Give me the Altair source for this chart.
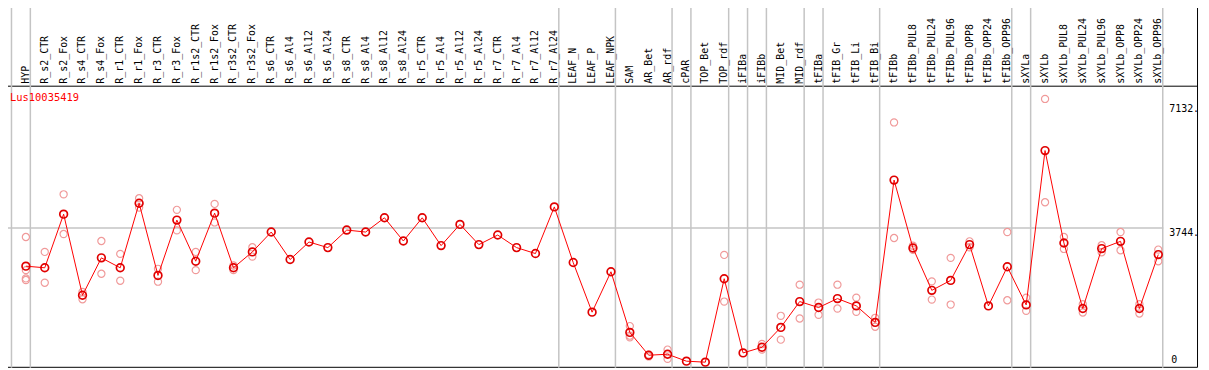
import altair as alt
import pandas as pd

# ---- data ----
gene = "Lus10035419"
samples = [
    "HYP", "R_s2_CTR", "R_s2_Fox", "R_s4_CTR", "R_s4_Fox", "R_r1_CTR", "R_r1_Fox",
    "R_r3_CTR", "R_r3_Fox", "R_r1s2_CTR", "R_r1s2_Fox", "R_r3s2_CTR", "R_r3s2_Fox",
    "R_s6_CTR", "R_s6_Al4", "R_s6_Al12", "R_s6_Al24", "R_s8_CTR", "R_s8_Al4",
    "R_s8_Al12", "R_s8_Al24", "R_r5_CTR", "R_r5_Al4", "R_r5_Al12", "R_r5_Al24",
    "R_r7_CTR", "R_r7_Al4", "R_r7_Al12", "R_r7_Al24", "LEAF_N", "LEAF_P", "LEAF_NPK",
    "SAM", "AR_Bet", "AR_rdf", "cPAR", "TOP_Bet", "TOP_rdf", "iFIBa", "iFIBb",
    "MID_Bet", "MID_rdf", "tFIBa", "tFIB_Gr", "tFIB_Li", "tFIB_Bi", "tFIBb",
    "tFIBb_PUL8", "tFIBb_PUL24", "tFIBb_PUL96", "tFIBb_OPP8", "tFIBb_OPP24",
    "tFIBb_OPP96", "sXYLa", "sXYLb", "sXYLb_PUL8", "sXYLb_PUL24", "sXYLb_PUL96",
    "sXYLb_OPP8", "sXYLb_OPP24", "sXYLb_OPP96",
]
means = [
    2702, 2657, 4122, 1906, 2928, 2657, 4421, 2448, 3960, 2837, 4150, 2657, 3091,
    3634, 2883, 3362, 3208, 3688, 3634, 4023, 3389, 4023, 3263, 3842, 3290,
    3552, 3208, 3046, 4321, 2801, 1444, 2548,
    892, 268, 295, 105, 78, 2358, 331, 485, 1028, 1734, 1571, 1815, 1616, 1164,
    5054, 3199, 2041, 2313, 3290, 1616, 2684, 1643, 5860, 3335, 1544, 3181,
    3380, 1544, 3018,
]
replicates = [
    [3498, 2593, 2367, 2322], [3091, 2249], [4665, 3579], [1996, 1797], [3389, 2494],
    [3037, 2304], [4557, 4303], [2629, 2277], [4240, 3679], [3091, 2593], [4403, 3896],
    [2720, 2593], [3217, 2964],
    [], [], [], [], [], [], [], [], [], [], [], [], [], [], [], [], [], [], [],
    [1064, 802, 756], [285, 235], [422, 168], [], [], [3009, 1734], [], [575, 422],
    [1345, 693], [2195, 1272], [1707, 1372], [2195, 1544], [1842, 1453], [1290, 1046],
    [6629, 3471], [3150, 3260], [2286, 1788], [2928, 1652], [3380, 3217], [],
    [3634, 1770], [1842, 1480], [7271, 4448], [3498, 3172], [1661, 1435], [3272, 3082],
    [3634, 3136], [1661, 1408], [3154, 2837],
]
group_ends = [-1, 0, 28, 31, 34, 35, 37, 38, 39, 41, 42, 45, 52, 53, 60]
tick_values = [7132, 3744, 0]
tick_labels = ["7132.", "3744.", "0"]
grid_values = [3744]

# ---- tables ----
df_mean = pd.DataFrame({"idx": list(range(len(samples))), "name": samples, "v": means})
rep_rows = [{"idx": i, "v": v} for i, reps in enumerate(replicates) for v in reps]
df_rep = pd.DataFrame(rep_rows)
df_sep = pd.DataFrame({"idx": group_ends})
df_ticks = pd.DataFrame({"v": tick_values, "label": tick_labels})
df_grid = pd.DataFrame({"v": grid_values})
df_title = pd.DataFrame({"t": [gene]})

W, H = 1209, 370
xs = alt.Scale(domain=[-26 / 19, (W - 26) / 19], nice=False, zero=False)
ys = alt.Scale(domain=[-103, 9940], nice=False, zero=False)
FONT = "DejaVu Sans Mono"

X = alt.X("idx:Q", scale=xs, axis=None)
Y = alt.Y("v:Q", scale=ys, axis=None)

frame = alt.Chart(df_title).mark_rect(fill="white", fillOpacity=0, stroke="black", strokeWidth=1).encode(
    x=alt.value(1.5), x2=alt.value(1205.5), y=alt.value(0.5), y2=alt.value(368.5)
)
header_line = alt.Chart(df_title).mark_rule(color="black", strokeWidth=1).encode(
    x=alt.value(1), x2=alt.value(1205), y=alt.value(85.5)
)
seps = alt.Chart(df_sep).mark_rule(color="#c4c4c4", strokeWidth=1.5, xOffset=4.5).encode(
    x=X, y=alt.value(0), y2=alt.value(369)
)
grid = alt.Chart(df_grid).mark_rule(color="#c4c4c4", strokeWidth=1.5).encode(
    y=Y, x=alt.value(1), x2=alt.value(1171)
)
col_labels = alt.Chart(df_mean).mark_text(
    angle=270, align="left", baseline="middle", font=FONT, fontSize=10, color="black"
).encode(x=X, y=alt.value(83), text="name:N")
title = alt.Chart(df_title).mark_text(
    align="left", baseline="middle", font=FONT, fontSize=10.5, color="#ff0000"
).encode(x=alt.value(10), y=alt.value(97), text="t:N")
ticks_top = alt.Chart(df_ticks).transform_filter("datum.v > 0").mark_text(
    align="left", baseline="top", font=FONT, fontSize=10, color="black"
).encode(y=Y, x=alt.value(1177), text="label:N")
ticks_zero = alt.Chart(df_ticks).transform_filter("datum.v <= 0").mark_text(
    align="left", baseline="bottom", font=FONT, fontSize=10, color="black"
).encode(y=Y, x=alt.value(1179), text="label:N")
reps = alt.Chart(df_rep).mark_point(
    shape="circle", filled=False, color="#f09a9a", strokeWidth=1.2, size=52, opacity=1
).encode(x=X, y=Y)
line = alt.Chart(df_mean).mark_line(color="#ff0000", strokeWidth=1).encode(x=X, y=Y)
mean_pts = alt.Chart(df_mean).mark_point(
    shape="circle", filled=False, color="#e00000", strokeWidth=1.7, size=60, opacity=1
).encode(x=X, y=Y)

chart = alt.layer(
    frame, header_line, seps, grid, col_labels, title, ticks_top, ticks_zero,
    reps, line, mean_pts
).properties(
    width=W, height=H, autosize="none",
    padding={"left": -8, "top": -8, "right": 0, "bottom": 0},
    background="white",
).configure_view(strokeWidth=0)

chart.save("out.html", embed_options={"renderer": "svg", "actions": False})
